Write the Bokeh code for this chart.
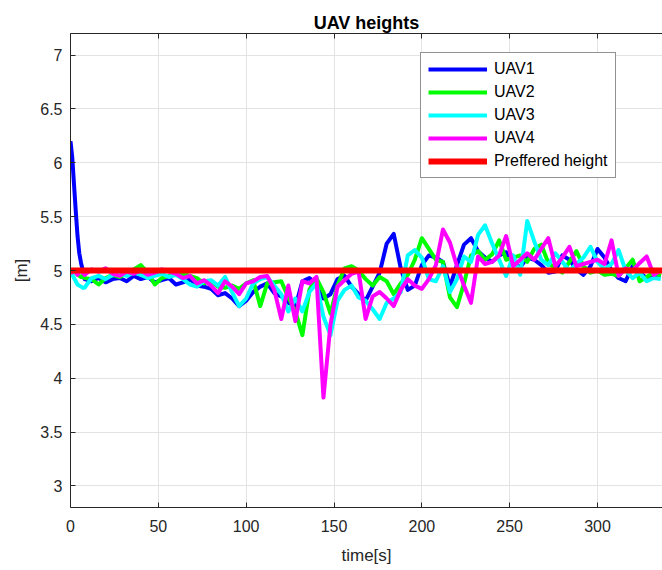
from bokeh.plotting import figure
from bokeh.models import Range1d, FixedTicker, LinearAxis, Legend, LegendItem
from bokeh.embed import file_html
from bokeh.resources import INLINE

# time axis [s]
time_s = [0, 1, 2, 3, 4, 5, 6, 7] + list(range(8, 337, 4))

uav1 = [6.20, 6.05, 5.80, 5.55, 5.32, 5.16, 5.07, 5.00,
        4.92, 4.90, 4.93, 4.89, 4.92, 4.93, 4.90, 4.95, 4.92, 4.94,
        4.89, 4.91, 4.93, 4.87, 4.89, 4.92, 4.86, 4.85, 4.83, 4.77,
        4.79, 4.74, 4.67, 4.72, 4.80, 4.85, 4.88, 4.79, 4.76, 4.70,
        4.66, 4.90, 4.93, 4.88, 4.74, 4.78, 4.92, 4.95, 4.85, 4.78,
        4.72, 4.85, 4.98, 5.25, 5.34, 5.02, 4.82, 4.86, 5.05, 5.14,
        5.12, 5.08, 4.85, 5.05, 5.24, 5.30, 5.18, 5.12, 5.08, 5.14,
        5.17, 5.08, 5.03, 5.12, 5.10, 5.05, 4.98, 4.99, 5.14, 5.10,
        5.01, 4.96, 5.04, 5.20, 5.12, 5.00, 4.93, 4.90, 5.04, 4.98,
        4.93, 4.96, 4.95]

uav2 = [4.97, 4.98, 4.99, 4.98, 4.96, 4.95, 4.94, 4.95,
        4.93, 4.92, 4.87, 4.93, 4.96, 4.94, 4.97, 5.01, 5.05, 4.98,
        4.87, 4.93, 4.95, 4.96, 4.97, 4.95, 4.93, 4.88, 4.90, 4.85,
        4.84, 4.86, 4.83, 4.88, 4.91, 4.67, 4.88, 4.89, 4.90, 4.75,
        4.62, 4.40, 4.82, 4.93, 4.80, 4.60, 4.86, 5.02, 5.04, 5.00,
        4.92, 4.86, 4.94, 4.90, 4.78, 4.88, 4.96, 5.10, 5.30, 5.20,
        5.10, 5.08, 4.75, 4.66, 4.88, 5.14, 5.18, 5.10, 5.15, 5.28,
        5.10, 5.12, 5.14, 5.08, 5.20, 5.24, 5.07, 5.02, 4.98, 5.08,
        5.18, 5.04, 4.98, 5.00, 4.96, 4.97, 4.95, 5.02, 5.10, 4.90,
        4.94, 4.98, 4.95]

uav3 = [4.97, 4.96, 4.93, 4.90, 4.87, 4.86, 4.85, 4.84,
        4.84, 4.93, 4.95, 4.92, 4.96, 4.97, 4.95, 4.98, 4.96, 4.93,
        4.95, 4.97, 4.94, 4.96, 4.92, 4.87, 4.85, 4.90, 4.91, 4.86,
        4.94, 4.80, 4.67, 4.74, 4.88, 4.92, 4.94, 4.86, 4.78, 4.62,
        4.74, 4.62, 4.80, 4.88, 4.57, 4.40, 4.72, 4.82, 4.86, 4.75,
        4.72, 4.64, 4.55, 4.70, 4.74, 4.80, 5.14, 5.19, 5.12, 4.92,
        4.90, 5.04, 4.80, 4.92, 5.13, 5.08, 5.33, 5.42, 5.25, 5.10,
        4.95, 5.14, 4.96, 5.46, 5.27, 5.10, 5.05, 5.16, 5.08, 5.00,
        5.06, 5.12, 5.22, 5.08, 5.01, 5.06, 5.19, 5.00, 4.93, 4.98,
        4.90, 4.93, 4.92]

uav4 = [4.97, 4.99, 5.00, 4.98, 4.96, 4.99, 5.00, 4.98,
        4.96, 5.01, 4.99, 5.02, 4.97, 4.95, 4.99, 4.97, 5.00, 4.96,
        4.98, 5.01, 4.99, 4.97, 4.93, 4.95, 4.88, 4.91, 4.86, 4.79,
        4.90, 4.85, 4.78, 4.88, 4.90, 4.94, 4.95, 4.82, 4.55, 4.86,
        4.53, 4.90, 4.88, 4.94, 3.82, 4.50, 4.85, 4.91, 4.97, 4.99,
        4.55, 4.76, 4.80, 4.74, 4.67, 4.82, 4.92, 4.86, 4.83, 4.92,
        5.05, 5.38, 5.26, 5.04, 4.86, 4.70, 5.13, 5.06, 5.08, 5.14,
        5.32, 5.04, 5.10, 5.16, 5.10, 5.20, 5.30, 5.04, 5.12, 5.22,
        5.04, 5.06, 5.08, 5.10, 5.06, 5.28, 4.95, 5.02, 5.00, 5.07,
        5.13, 4.96, 5.00]

pref_t = [0, 337]
pref_h = [5, 5]

series_names = ["UAV1", "UAV2", "UAV3", "UAV4", "Preffered height"]
x_ticks = [0, 50, 100, 150, 200, 250, 300]
y_ticks = [3, 3.5, 4, 4.5, 5, 5.5, 6, 6.5, 7]

FONT = "Liberation Sans"
AX = "#262626"
GRID = "#e3e3e3"

p = figure(width=662, height=570, output_backend="svg", toolbar_location=None,
           x_range=Range1d(0, 337), y_range=Range1d(2.8, 7.2),
           min_border_left=70, min_border_right=0, min_border_top=33,
           min_border_bottom=63, title="UAV heights")
p.outline_line_color = None
p.background_fill_color = "white"
p.border_fill_color = "white"

p.title.align = "center"
p.title.text_font = FONT
p.title.text_font_size = "18px"
p.title.text_font_style = "bold"
p.title.text_color = "#000000"
p.title.standoff = 2

for ax in (p.xaxis[0], p.yaxis[0]):
    ax.major_tick_in = 5
    ax.major_tick_out = 0
    ax.minor_tick_line_color = None
    ax.axis_line_color = AX
    ax.major_tick_line_color = AX
    ax.major_label_text_font = FONT
    ax.major_label_text_font_size = "16px"
    ax.major_label_text_color = AX
    ax.axis_label_text_font = FONT
    ax.axis_label_text_font_size = "17px"
    ax.axis_label_text_font_style = "normal"
    ax.axis_label_text_color = AX

p.xaxis[0].ticker = FixedTicker(ticks=x_ticks)
p.yaxis[0].ticker = FixedTicker(ticks=y_ticks)
p.xaxis[0].major_label_overrides = {v: f"{v:g}" for v in x_ticks}
p.yaxis[0].major_label_overrides = {v: f"{v:g}" for v in y_ticks}
p.xaxis[0].axis_label = "time[s]"
p.yaxis[0].axis_label = "[m]"
p.xaxis[0].major_label_standoff = 12
p.xaxis[0].axis_label_standoff = 11
p.yaxis[0].major_label_standoff = 8
p.yaxis[0].axis_label_standoff = 6

top = LinearAxis(ticker=FixedTicker(ticks=x_ticks))
top.major_tick_in = 5
top.major_tick_out = 0
top.minor_tick_line_color = None
top.axis_line_color = AX
top.major_tick_line_color = AX
top.major_label_text_font_size = "1px"
top.major_label_text_color = None
top.major_label_standoff = 0
p.add_layout(top, "above")

p.xgrid.ticker = FixedTicker(ticks=x_ticks)
p.ygrid.ticker = FixedTicker(ticks=y_ticks)
p.xgrid.grid_line_color = GRID
p.ygrid.grid_line_color = GRID

colors = ["#0000ff", "#00ff00", "#00ffff", "#ff00ff"]
renderers = []
for vals, c in zip([uav1, uav2, uav3, uav4], colors):
    r = p.line(time_s, vals, line_color=c, line_width=4, line_join="round")
    renderers.append(r)
rp = p.line(pref_t, pref_h, line_color="#ff0000", line_width=6)
renderers.append(rp)

legend = Legend(items=[LegendItem(label=n, renderers=[r]) for n, r in zip(series_names, renderers)],
                location=(350, 329))
legend.label_text_font = FONT
legend.label_text_font_size = "16px"
legend.label_text_color = "#000000"
legend.glyph_width = 59
legend.glyph_height = 18
legend.label_height = 18
legend.spacing = 5
legend.padding = 7
legend.margin = 0
legend.label_standoff = 7
legend.border_line_color = AX
legend.border_line_width = 1
legend.background_fill_color = "white"
legend.background_fill_alpha = 1
p.add_layout(legend, "center")

open("out.html", "w").write(file_html(p, INLINE))
